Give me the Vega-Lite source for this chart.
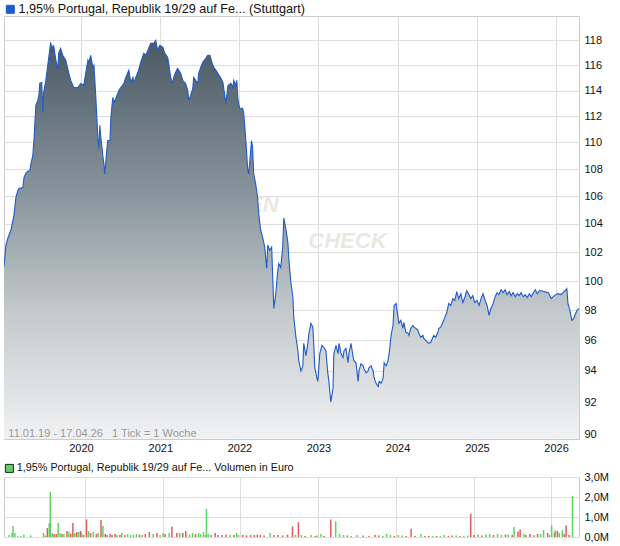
{
 "$schema": "https://vega.github.io/schema/vega-lite/v6.json",
 "padding": {"left": 3, "top": 3, "right": 5, "bottom": 3},
 "background": "white",
 "spacing": 38,
 "bounds": "flush",
 "datasets": {
  "price": [
   {"date":"2019-01-11","price":101.0},{"date":"2019-01-20","price":102.5},{"date":"2019-01-29","price":103.0},{"date":"2019-02-12","price":103.57},{"date":"2019-02-26","price":104.64},{"date":"2019-03-07","price":105.93},{"date":"2019-03-16","price":106.43},{"date":"2019-03-21","price":106.57},{"date":"2019-04-08","price":106.64},{"date":"2019-04-13","price":107.36},{"date":"2019-04-22","price":107.71},{"date":"2019-05-01","price":107.86},{"date":"2019-05-10","price":107.86},{"date":"2019-05-15","price":108.38},{"date":"2019-05-24","price":109.0},{"date":"2019-05-29","price":110.15},{"date":"2019-06-07","price":112.85},{"date":"2019-06-16","price":113.23},{"date":"2019-06-21","price":113.62},{"date":"2019-06-25","price":114.56},{"date":"2019-07-04","price":114.64},{"date":"2019-07-09","price":112.31},{"date":"2019-07-13","price":113.85},{"date":"2019-07-23","price":114.8},{"date":"2019-08-01","price":116.0},{"date":"2019-08-05","price":116.56},{"date":"2019-08-14","price":117.76},{"date":"2019-08-24","price":117.36},{"date":"2019-08-28","price":117.6},{"date":"2019-09-06","price":116.56},{"date":"2019-09-16","price":115.6},{"date":"2019-09-20","price":116.96},{"date":"2019-09-29","price":117.36},{"date":"2019-10-09","price":116.8},{"date":"2019-10-23","price":116.4},{"date":"2019-11-05","price":115.44},{"date":"2019-11-15","price":114.8},{"date":"2019-11-29","price":114.24},{"date":"2019-12-17","price":114.24},
   {"date":"2020-01-01","price":114.56},{"date":"2020-01-14","price":114.4},{"date":"2020-01-23","price":115.36},{"date":"2020-02-02","price":116.4},{"date":"2020-02-06","price":116.24},{"date":"2020-02-15","price":116.8},{"date":"2020-02-25","price":115.84},{"date":"2020-03-01","price":116.0},{"date":"2020-03-10","price":113.38},{"date":"2020-03-19","price":110.38},{"date":"2020-03-24","price":109.54},{"date":"2020-03-28","price":111.31},{"date":"2020-04-02","price":110.38},{"date":"2020-04-11","price":109.0},{"date":"2020-04-16","price":108.38},{"date":"2020-04-20","price":107.64},{"date":"2020-04-30","price":109.54},{"date":"2020-05-04","price":110.15},{"date":"2020-05-14","price":110.15},{"date":"2020-05-18","price":111.92},{"date":"2020-05-27","price":113.46},{"date":"2020-06-01","price":113.08},{"date":"2020-06-10","price":113.38},{"date":"2020-06-19","price":113.77},{"date":"2020-06-24","price":114.0},{"date":"2020-07-03","price":114.24},{"date":"2020-07-17","price":114.56},{"date":"2020-07-26","price":115.04},{"date":"2020-08-09","price":115.6},{"date":"2020-08-18","price":114.64},{"date":"2020-08-28","price":115.04},{"date":"2020-09-01","price":114.56},{"date":"2020-09-10","price":115.04},{"date":"2020-09-20","price":115.44},{"date":"2020-10-03","price":116.24},{"date":"2020-10-17","price":116.96},{"date":"2020-10-26","price":116.8},{"date":"2020-11-05","price":117.2},{"date":"2020-11-18","price":117.76},{"date":"2020-12-02","price":117.76},{"date":"2020-12-11","price":118.0},{"date":"2020-12-20","price":117.2},{"date":"2020-12-30","price":117.6},
   {"date":"2021-01-13","price":117.44},{"date":"2021-01-22","price":116.96},{"date":"2021-02-04","price":116.64},{"date":"2021-02-09","price":116.16},{"date":"2021-02-18","price":115.04},{"date":"2021-02-27","price":114.56},{"date":"2021-03-04","price":115.04},{"date":"2021-03-13","price":115.44},{"date":"2021-03-22","price":115.76},{"date":"2021-04-05","price":115.36},{"date":"2021-04-15","price":114.8},{"date":"2021-04-28","price":114.56},{"date":"2021-05-08","price":114.0},{"date":"2021-05-12","price":113.23},{"date":"2021-05-21","price":113.62},{"date":"2021-05-31","price":114.16},{"date":"2021-06-04","price":115.04},{"date":"2021-06-13","price":114.8},{"date":"2021-06-23","price":114.56},{"date":"2021-06-27","price":115.36},{"date":"2021-07-07","price":115.84},{"date":"2021-07-16","price":116.24},{"date":"2021-07-30","price":116.56},{"date":"2021-08-08","price":116.8},{"date":"2021-08-18","price":116.8},{"date":"2021-08-27","price":116.24},{"date":"2021-09-05","price":115.84},{"date":"2021-09-24","price":115.36},{"date":"2021-10-08","price":114.96},{"date":"2021-10-17","price":114.64},{"date":"2021-10-21","price":114.16},{"date":"2021-10-31","price":113.0},{"date":"2021-11-09","price":114.4},{"date":"2021-11-23","price":114.56},{"date":"2021-12-02","price":114.24},{"date":"2021-12-06","price":114.8},{"date":"2021-12-16","price":114.4},{"date":"2021-12-20","price":114.8},{"date":"2021-12-25","price":113.38},
   {"date":"2022-01-02","price":112.62},{"date":"2022-01-16","price":112.62},{"date":"2022-01-21","price":112.23},{"date":"2022-01-30","price":110.38},{"date":"2022-02-08","price":108.08},{"date":"2022-02-13","price":107.64},{"date":"2022-02-17","price":108.38},{"date":"2022-02-26","price":110.15},{"date":"2022-03-03","price":109.62},{"date":"2022-03-08","price":107.64},{"date":"2022-03-17","price":106.93},{"date":"2022-03-26","price":105.93},{"date":"2022-03-31","price":104.79},{"date":"2022-04-09","price":103.57},{"date":"2022-04-18","price":103.07},{"date":"2022-04-28","price":102.36},{"date":"2022-05-07","price":100.86},{"date":"2022-05-12","price":102.5},{"date":"2022-05-21","price":102.14},{"date":"2022-05-30","price":102.36},{"date":"2022-06-04","price":100.21},{"date":"2022-06-09","price":98.13},{"date":"2022-06-18","price":99.13},{"date":"2022-06-27","price":100.71},{"date":"2022-07-02","price":101.21},{"date":"2022-07-11","price":100.93},{"date":"2022-07-20","price":102.36},{"date":"2022-07-25","price":104.43},{"date":"2022-08-03","price":103.71},{"date":"2022-08-13","price":102.64},{"date":"2022-08-17","price":101.57},{"date":"2022-08-26","price":100.0},{"date":"2022-09-05","price":98.87},{"date":"2022-09-09","price":97.53},{"date":"2022-09-19","price":96.2},{"date":"2022-09-28","price":95.33},{"date":"2022-10-02","price":94.67},{"date":"2022-10-12","price":94.0},{"date":"2022-10-21","price":94.33},{"date":"2022-10-25","price":95.8},{"date":"2022-11-04","price":95.0},{"date":"2022-11-13","price":95.8},{"date":"2022-11-18","price":96.47},{"date":"2022-11-27","price":97.13},{"date":"2022-12-06","price":96.87},{"date":"2022-12-11","price":95.53},{"date":"2022-12-15","price":94.2},{"date":"2022-12-25","price":93.53},{"date":"2022-12-29","price":93.33},
   {"date":"2023-01-07","price":95.13},{"date":"2023-01-17","price":95.67},{"date":"2023-01-26","price":95.53},{"date":"2023-02-04","price":95.33},{"date":"2023-02-13","price":93.87},{"date":"2023-02-18","price":93.33},{"date":"2023-02-27","price":92.0},{"date":"2023-03-09","price":92.87},{"date":"2023-03-13","price":95.13},{"date":"2023-03-23","price":95.67},{"date":"2023-04-01","price":95.13},{"date":"2023-04-06","price":95.8},{"date":"2023-04-15","price":95.13},{"date":"2023-04-24","price":94.87},{"date":"2023-04-29","price":95.33},{"date":"2023-05-08","price":95.47},{"date":"2023-05-17","price":94.53},{"date":"2023-05-22","price":95.2},{"date":"2023-05-31","price":95.8},{"date":"2023-06-10","price":94.87},{"date":"2023-06-14","price":94.67},{"date":"2023-06-23","price":94.53},{"date":"2023-07-03","price":93.33},{"date":"2023-07-07","price":94.0},{"date":"2023-07-16","price":94.47},{"date":"2023-07-26","price":94.33},{"date":"2023-07-30","price":94.13},{"date":"2023-08-09","price":93.87},{"date":"2023-08-18","price":94.0},{"date":"2023-08-22","price":94.2},{"date":"2023-09-01","price":94.33},{"date":"2023-09-10","price":94.0},{"date":"2023-09-15","price":93.53},{"date":"2023-09-24","price":93.2},{"date":"2023-10-03","price":93.0},{"date":"2023-10-08","price":93.33},{"date":"2023-10-17","price":93.2},{"date":"2023-10-26","price":93.53},{"date":"2023-10-31","price":94.53},{"date":"2023-11-09","price":94.33},{"date":"2023-11-18","price":94.67},{"date":"2023-11-23","price":95.13},{"date":"2023-12-02","price":96.33},{"date":"2023-12-11","price":97.0},{"date":"2023-12-16","price":98.33},{"date":"2023-12-25","price":98.47},
   {"date":"2024-01-03","price":97.53},{"date":"2024-01-07","price":97.13},{"date":"2024-01-16","price":97.33},{"date":"2024-01-26","price":96.8},{"date":"2024-01-30","price":97.2},{"date":"2024-02-08","price":96.53},{"date":"2024-02-18","price":96.47},{"date":"2024-02-22","price":96.33},{"date":"2024-03-02","price":96.8},{"date":"2024-03-12","price":97.0},{"date":"2024-03-16","price":96.87},{"date":"2024-03-25","price":96.8},{"date":"2024-04-04","price":96.67},{"date":"2024-04-08","price":96.47},{"date":"2024-04-17","price":96.2},{"date":"2024-04-27","price":96.33},{"date":"2024-05-01","price":96.13},{"date":"2024-05-10","price":96.0},{"date":"2024-05-19","price":95.87},{"date":"2024-05-24","price":95.8},{"date":"2024-06-02","price":95.87},{"date":"2024-06-12","price":96.2},{"date":"2024-06-16","price":96.33},{"date":"2024-06-25","price":96.2},{"date":"2024-07-05","price":96.53},{"date":"2024-07-09","price":96.8},{"date":"2024-07-18","price":96.87},{"date":"2024-08-01","price":97.33},{"date":"2024-08-15","price":97.87},{"date":"2024-08-24","price":98.47},{"date":"2024-09-02","price":98.33},{"date":"2024-09-12","price":98.8},{"date":"2024-09-21","price":98.67},{"date":"2024-09-30","price":99.27},{"date":"2024-10-09","price":98.8},{"date":"2024-10-19","price":99.13},{"date":"2024-10-28","price":98.53},{"date":"2024-11-06","price":98.87},{"date":"2024-11-15","price":99.33},{"date":"2024-11-25","price":99.07},{"date":"2024-12-04","price":98.8},{"date":"2024-12-13","price":99.0},{"date":"2024-12-22","price":98.53},
   {"date":"2025-01-01","price":98.67},{"date":"2025-01-11","price":98.33},{"date":"2025-01-20","price":98.8},{"date":"2025-01-29","price":99.13},{"date":"2025-02-08","price":98.67},{"date":"2025-02-17","price":98.33},{"date":"2025-02-26","price":97.67},{"date":"2025-03-07","price":98.13},{"date":"2025-03-17","price":98.47},{"date":"2025-03-26","price":98.93},{"date":"2025-04-04","price":99.2},{"date":"2025-04-13","price":99.07},{"date":"2025-04-23","price":99.4},{"date":"2025-05-02","price":99.2},{"date":"2025-05-11","price":99.4},{"date":"2025-05-20","price":99.07},{"date":"2025-05-30","price":99.27},{"date":"2025-06-08","price":99.0},{"date":"2025-06-17","price":99.2},{"date":"2025-06-27","price":98.93},{"date":"2025-07-06","price":99.13},{"date":"2025-07-15","price":99.0},{"date":"2025-07-24","price":99.2},{"date":"2025-08-03","price":98.93},{"date":"2025-08-12","price":99.07},{"date":"2025-08-21","price":98.87},{"date":"2025-08-31","price":99.13},{"date":"2025-09-09","price":98.93},{"date":"2025-09-18","price":99.2},{"date":"2025-09-27","price":99.4},{"date":"2025-10-07","price":99.13},{"date":"2025-10-16","price":99.33},{"date":"2025-10-25","price":99.33},{"date":"2025-11-08","price":99.27},{"date":"2025-11-27","price":99.2},{"date":"2025-12-10","price":98.8},{"date":"2025-12-24","price":99.0},
   {"date":"2026-01-01","price":99.07},{"date":"2026-01-10","price":99.13},{"date":"2026-01-24","price":99.07},{"date":"2026-02-02","price":99.2},{"date":"2026-02-16","price":99.4},{"date":"2026-02-20","price":99.47},{"date":"2026-02-25","price":98.47},{"date":"2026-03-06","price":98.0},{"date":"2026-03-15","price":97.33},{"date":"2026-03-25","price":97.47},{"date":"2026-03-29","price":97.67},{"date":"2026-04-08","price":98.0},{"date":"2026-04-17","price":98.13}
  ],
  "vol": [
   {"date":"2019-01-11","vol":100000,"dir":"up"},{"date":"2019-01-25","vol":200000,"dir":"up"},{"date":"2019-01-30","vol":550000,"dir":"up"},{"date":"2019-02-08","vol":200000,"dir":"up"},{"date":"2019-02-22","vol":50000,"dir":"up"},{"date":"2019-03-08","vol":50000,"dir":"up"},{"date":"2019-03-22","vol":120000,"dir":"up"},{"date":"2019-04-23","vol":80000,"dir":"up"},{"date":"2019-06-22","vol":200000,"dir":"up"},{"date":"2019-07-01","vol":80000,"dir":"up"},{"date":"2019-07-10","vol":450000,"dir":"down"},{"date":"2019-07-19","vol":700000,"dir":"up"},{"date":"2019-07-24","vol":2250000,"dir":"up"},{"date":"2019-08-02","vol":200000,"dir":"up"},{"date":"2019-08-11","vol":150000,"dir":"down"},{"date":"2019-08-21","vol":150000,"dir":"down"},{"date":"2019-08-30","vol":700000,"dir":"up"},{"date":"2019-09-08","vol":200000,"dir":"up"},{"date":"2019-09-17","vol":150000,"dir":"down"},{"date":"2019-09-26","vol":150000,"dir":"up"},{"date":"2019-10-10","vol":300000,"dir":"down"},{"date":"2019-10-19","vol":250000,"dir":"up"},{"date":"2019-10-28","vol":150000,"dir":"down"},{"date":"2019-11-07","vol":700000,"dir":"down"},{"date":"2019-11-16","vol":200000,"dir":"up"},{"date":"2019-11-25","vol":250000,"dir":"down"},{"date":"2019-12-04","vol":250000,"dir":"up"},{"date":"2019-12-13","vol":300000,"dir":"down"},{"date":"2019-12-18","vol":200000,"dir":"up"},{"date":"2019-12-27","vol":100000,"dir":"down"},
   {"date":"2020-01-10","vol":880000,"dir":"down"},{"date":"2020-01-19","vol":300000,"dir":"up"},{"date":"2020-01-29","vol":200000,"dir":"down"},{"date":"2020-02-11","vol":250000,"dir":"up"},{"date":"2020-02-25","vol":150000,"dir":"down"},{"date":"2020-03-05","vol":200000,"dir":"up"},{"date":"2020-03-18","vol":850000,"dir":"down"},{"date":"2020-03-27","vol":560000,"dir":"up"},{"date":"2020-04-07","vol":150000,"dir":"down"},{"date":"2020-04-16","vol":100000,"dir":"down"},{"date":"2020-04-30","vol":150000,"dir":"down"},{"date":"2020-05-09","vol":100000,"dir":"down"},{"date":"2020-05-23","vol":150000,"dir":"down"},{"date":"2020-06-01","vol":100000,"dir":"up"},{"date":"2020-06-15","vol":100000,"dir":"down"},{"date":"2020-06-24","vol":200000,"dir":"up"},{"date":"2020-07-08","vol":100000,"dir":"down"},{"date":"2020-07-21","vol":150000,"dir":"up"},{"date":"2020-08-04","vol":100000,"dir":"up"},{"date":"2020-08-18","vol":120000,"dir":"up"},{"date":"2020-09-01","vol":150000,"dir":"up"},{"date":"2020-09-15","vol":120000,"dir":"down"},{"date":"2020-09-28","vol":100000,"dir":"up"},{"date":"2020-10-12","vol":150000,"dir":"down"},{"date":"2020-10-31","vol":250000,"dir":"down"},{"date":"2020-11-18","vol":150000,"dir":"up"},{"date":"2020-12-06","vol":200000,"dir":"down"},{"date":"2020-12-20","vol":100000,"dir":"up"},
   {"date":"2021-01-04","vol":200000,"dir":"up"},{"date":"2021-01-13","vol":150000,"dir":"down"},{"date":"2021-02-01","vol":200000,"dir":"up"},{"date":"2021-02-14","vol":520000,"dir":"down"},{"date":"2021-03-09","vol":200000,"dir":"down"},{"date":"2021-03-23","vol":200000,"dir":"up"},{"date":"2021-04-06","vol":200000,"dir":"down"},{"date":"2021-04-20","vol":300000,"dir":"down"},{"date":"2021-05-08","vol":120000,"dir":"up"},{"date":"2021-05-22","vol":200000,"dir":"up"},{"date":"2021-06-05","vol":150000,"dir":"down"},{"date":"2021-06-19","vol":200000,"dir":"up"},{"date":"2021-06-28","vol":150000,"dir":"up"},{"date":"2021-07-12","vol":250000,"dir":"up"},{"date":"2021-07-21","vol":100000,"dir":"up"},{"date":"2021-07-26","vol":1400000,"dir":"up"},{"date":"2021-08-04","vol":150000,"dir":"up"},{"date":"2021-08-17","vol":100000,"dir":"down"},{"date":"2021-09-05","vol":200000,"dir":"down"},{"date":"2021-09-19","vol":100000,"dir":"down"},{"date":"2021-10-07","vol":100000,"dir":"down"},{"date":"2021-10-26","vol":120000,"dir":"down"},{"date":"2021-11-13","vol":100000,"dir":"up"},{"date":"2021-12-02","vol":100000,"dir":"down"},{"date":"2021-12-15","vol":200000,"dir":"up"},{"date":"2021-12-24","vol":100000,"dir":"up"},
   {"date":"2022-01-12","vol":100000,"dir":"down"},{"date":"2022-01-30","vol":80000,"dir":"down"},{"date":"2022-02-18","vol":100000,"dir":"down"},{"date":"2022-03-08","vol":100000,"dir":"down"},{"date":"2022-03-22","vol":120000,"dir":"down"},{"date":"2022-04-05","vol":100000,"dir":"down"},{"date":"2022-04-23","vol":80000,"dir":"down"},{"date":"2022-05-21","vol":200000,"dir":"up"},{"date":"2022-06-08","vol":100000,"dir":"down"},{"date":"2022-06-26","vol":100000,"dir":"down"},{"date":"2022-07-19","vol":80000,"dir":"down"},{"date":"2022-08-11","vol":120000,"dir":"down"},{"date":"2022-09-03","vol":530000,"dir":"down"},{"date":"2022-09-17","vol":100000,"dir":"up"},{"date":"2022-10-01","vol":740000,"dir":"down"},{"date":"2022-10-15","vol":100000,"dir":"up"},{"date":"2022-11-02","vol":50000,"dir":"down"},{"date":"2022-11-30","vol":100000,"dir":"up"},{"date":"2022-12-19","vol":50000,"dir":"down"},{"date":"2022-12-28","vol":80000,"dir":"up"},
   {"date":"2023-01-15","vol":150000,"dir":"up"},{"date":"2023-01-29","vol":50000,"dir":"down"},{"date":"2023-03-02","vol":880000,"dir":"down"},{"date":"2023-03-25","vol":780000,"dir":"up"},{"date":"2023-04-12","vol":150000,"dir":"up"},{"date":"2023-05-01","vol":100000,"dir":"up"},{"date":"2023-05-19","vol":80000,"dir":"down"},{"date":"2023-06-06","vol":50000,"dir":"up"},{"date":"2023-07-04","vol":100000,"dir":"up"},{"date":"2023-08-01","vol":80000,"dir":"down"},{"date":"2023-08-28","vol":50000,"dir":"down"},{"date":"2023-09-25","vol":100000,"dir":"down"},{"date":"2023-10-13","vol":80000,"dir":"down"},{"date":"2023-11-01","vol":50000,"dir":"up"},{"date":"2023-11-19","vol":150000,"dir":"up"},{"date":"2023-12-07","vol":100000,"dir":"up"},{"date":"2023-12-26","vol":50000,"dir":"down"},
   {"date":"2024-01-13","vol":100000,"dir":"up"},{"date":"2024-02-01","vol":80000,"dir":"up"},{"date":"2024-02-19","vol":50000,"dir":"down"},{"date":"2024-03-13","vol":410000,"dir":"down"},{"date":"2024-03-31","vol":50000,"dir":"down"},{"date":"2024-04-28","vol":150000,"dir":"up"},{"date":"2024-05-16","vol":50000,"dir":"down"},{"date":"2024-06-04","vol":50000,"dir":"down"},{"date":"2024-06-22","vol":50000,"dir":"up"},{"date":"2024-07-11","vol":50000,"dir":"down"},{"date":"2024-07-29","vol":50000,"dir":"up"},{"date":"2024-08-16","vol":100000,"dir":"up"},{"date":"2024-09-04","vol":50000,"dir":"down"},{"date":"2024-09-22","vol":80000,"dir":"down"},{"date":"2024-10-11","vol":80000,"dir":"up"},{"date":"2024-10-29","vol":50000,"dir":"down"},{"date":"2024-11-16","vol":50000,"dir":"up"},{"date":"2024-12-05","vol":80000,"dir":"up"},{"date":"2024-12-18","vol":1170000,"dir":"down"},
   {"date":"2025-01-03","vol":100000,"dir":"down"},{"date":"2025-01-21","vol":120000,"dir":"up"},{"date":"2025-02-08","vol":80000,"dir":"down"},{"date":"2025-02-27","vol":120000,"dir":"up"},{"date":"2025-03-17","vol":150000,"dir":"up"},{"date":"2025-04-04","vol":100000,"dir":"down"},{"date":"2025-04-23","vol":150000,"dir":"up"},{"date":"2025-05-11","vol":100000,"dir":"up"},{"date":"2025-05-30","vol":120000,"dir":"down"},{"date":"2025-06-12","vol":120000,"dir":"up"},{"date":"2025-07-01","vol":100000,"dir":"down"},{"date":"2025-07-10","vol":500000,"dir":"up"},{"date":"2025-07-28","vol":280000,"dir":"down"},{"date":"2025-08-07","vol":380000,"dir":"down"},{"date":"2025-08-25","vol":150000,"dir":"up"},{"date":"2025-09-03","vol":100000,"dir":"down"},{"date":"2025-09-22","vol":150000,"dir":"down"},{"date":"2025-10-10","vol":100000,"dir":"up"},{"date":"2025-10-28","vol":150000,"dir":"down"},{"date":"2025-11-11","vol":150000,"dir":"up"},{"date":"2025-11-25","vol":360000,"dir":"up"},{"date":"2025-12-14","vol":200000,"dir":"down"},{"date":"2025-12-23","vol":100000,"dir":"up"},
   {"date":"2026-01-02","vol":580000,"dir":"up"},{"date":"2026-01-15","vol":230000,"dir":"down"},{"date":"2026-01-19","vol":330000,"dir":"up"},{"date":"2026-01-29","vol":300000,"dir":"down"},{"date":"2026-02-07","vol":200000,"dir":"up"},{"date":"2026-02-21","vol":330000,"dir":"up"},{"date":"2026-03-02","vol":150000,"dir":"down"},{"date":"2026-03-11","vol":580000,"dir":"down"},{"date":"2026-03-25","vol":100000,"dir":"down"},{"date":"2026-04-10","vol":2060000,"dir":"up"}
  ]
 },
 "vconcat": [
  {
   "width": 575,
   "height": 423,
   "layer": [
    {
     "data": {"values": [{}]},
     "mark": {"type": "text", "text": "FINANZEN", "align": "right", "baseline": "alphabetic", "font": "Liberation Sans", "fontSize": 22, "fontStyle": "italic", "fontWeight": "bold", "color": "#ebe7e1"},
     "encoding": {
      "x": {"datum": {"year": 2022, "month": 7, "date": 1}, "type": "temporal"},
      "y": {"datum": 104.85}
     }
    },
    {
     "data": {"name": "price"},
     "mark": {"type": "area", "clip": true, "color": {"gradient": "linear", "x1": 0, "y1": 0, "x2": 0, "y2": 1, "stops": [{"offset": 0, "color": "#4a5964"}, {"offset": 0.4, "color": "#8b979e"}, {"offset": 0.68, "color": "#c3c9cc"}, {"offset": 1, "color": "#f1f2f3"}]}},
     "encoding": {
      "x": {"field": "date", "type": "temporal",
            "scale": {"domain": [{"year": 2019, "month": 1, "date": 11}, {"year": 2026, "month": 4, "date": 17}]},
            "axis": {"title": null, "format": "%Y", "labelPadding": 3, "labelFlush": false,
                     "values": [{"year": 2020, "month": 1, "date": 1}, {"year": 2021, "month": 1, "date": 1}, {"year": 2022, "month": 1, "date": 1}, {"year": 2023, "month": 1, "date": 1}, {"year": 2024, "month": 1, "date": 1}, {"year": 2025, "month": 1, "date": 1}, {"year": 2026, "month": 1, "date": 1}]}},
      "y": {"field": "price", "type": "quantitative",
            "scale": {"type": "log", "domain": [89.7, 120], "nice": false},
            "axis": {"title": null, "orient": "right", "labelPadding": 5, "format": "d",
                     "values": [90, 92, 94, 96, 98, 100, 102, 104, 106, 108, 110, 112, 114, 116, 118]}},
      "y2": {"datum": 89.7}
     }
    },
    {
     "data": {"values": [{}]},
     "mark": {"type": "text", "text": "CHECK", "align": "left", "baseline": "alphabetic", "font": "Liberation Sans", "fontSize": 22, "fontStyle": "italic", "fontWeight": "bold", "color": "#ebe7e1"},
     "encoding": {
      "x": {"datum": {"year": 2022, "month": 11, "date": 15}, "type": "temporal"},
      "y": {"datum": 102.3}
     }
    },
    {
     "data": {"name": "price"},
     "mark": {"type": "line", "clip": true, "strokeWidth": 1.1},
     "encoding": {
      "x": {"field": "date", "type": "temporal"},
      "y": {"field": "price", "type": "quantitative"},
      "stroke": {"datum": "1,95% Portugal, Republik 19/29 auf Fe... (Stuttgart)",
                 "scale": {"range": ["#1f5bc8"]},
                 "legend": {"title": null, "orient": "none", "legendX": 0, "legendY": -13, "symbolType": "square", "symbolSize": 64, "labelOffset": 2, "labelFontSize": 12.6,
                            "encode": {"symbols": {"update": {"fill": {"value": "#1f5bc8"}, "stroke": {"value": "#1a1a40"}, "strokeWidth": {"value": 1}}}}}}
     }
    },
    {
     "data": {"values": [{}]},
     "mark": {"type": "text", "text": "11.01.19 - 17.04.26 \u00a0 1 Tick = 1 Woche", "align": "left", "baseline": "alphabetic", "dy": -2, "font": "Liberation Sans", "fontSize": 11, "color": "#9a9a9a"},
     "encoding": {
      "x": {"datum": {"year": 2019, "month": 1, "date": 31}, "type": "temporal"},
      "y": {"datum": 89.7}
     }
    }
   ]
  },
  {
   "width": 575,
   "height": 60,
   "data": {"name": "vol"},
   "mark": {"type": "bar", "width": 1.5, "clip": true},
   "encoding": {
    "x": {"field": "date", "type": "temporal",
          "scale": {"domain": [{"year": 2019, "month": 1, "date": 11}, {"year": 2026, "month": 4, "date": 17}]},
          "axis": {"title": null, "labels": false,
                   "values": [{"year": 2020, "month": 1, "date": 1}, {"year": 2021, "month": 1, "date": 1}, {"year": 2022, "month": 1, "date": 1}, {"year": 2023, "month": 1, "date": 1}, {"year": 2024, "month": 1, "date": 1}, {"year": 2025, "month": 1, "date": 1}, {"year": 2026, "month": 1, "date": 1}]}},
    "y": {"field": "vol", "type": "quantitative",
          "scale": {"domain": [0, 3000000], "nice": false},
          "axis": {"title": null, "orient": "right", "labelPadding": 5, "values": [0, 1000000, 2000000, 3000000],
                   "labelExpr": "replace(format(datum.value / 1000000, '.1f'), '.', ',') + 'M'"}},
    "color": {"field": "dir", "type": "nominal",
              "scale": {"domain": ["up", "down"], "range": ["#5fd35f", "#e05c5c"]},
              "legend": {"title": null, "values": ["up"], "orient": "none", "legendX": 0, "legendY": 447, "symbolType": "square", "symbolSize": 64, "labelOffset": 2, "labelFontSize": 10.8,
                         "labelExpr": "'1,95% Portugal, Republik 19/29 auf Fe... Volumen in Euro'",
                         "encode": {"symbols": {"update": {"fill": {"value": "#66cc66"}, "stroke": {"value": "#1a2a1a"}, "strokeWidth": {"value": 1}}}}}}
   }
  }
 ],
 "config": {
  "view": {"stroke": "#cccccc", "strokeWidth": 1},
  "axis": {"grid": true, "gridColor": "#dedede", "gridWidth": 1, "domain": false, "ticks": false, "labelFont": "Liberation Sans", "labelFontSize": 11, "labelColor": "#111111"},
  "legend": {"labelFont": "Liberation Sans", "labelFontSize": 11.5, "labelColor": "#111111", "labelLimit": 0, "padding": 0}
 }
}
